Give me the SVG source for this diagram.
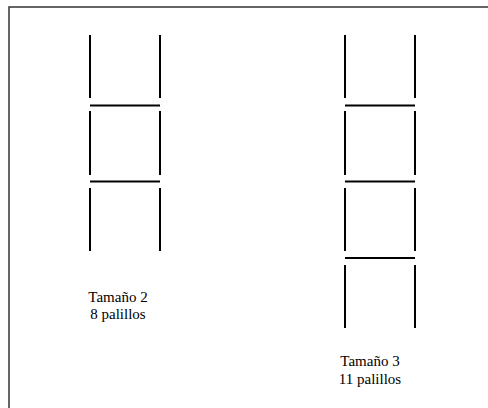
<svg xmlns="http://www.w3.org/2000/svg" width="488" height="408" viewBox="0 0 488 408">
  <style>
    .stick { stroke: #000; stroke-width: 2; fill: none; }
    .frame { stroke: #333; stroke-width: 1.5; fill: none; }
    .label { font-family: "Liberation Serif", "Times New Roman", serif; font-size: 15px; fill: #000; text-anchor: middle; }
  </style>
  <rect width="488" height="408" fill="#fff"/>
  <!-- page frame, open at right and bottom -->
  <rect class="frame" x="9" y="7" width="500" height="420"/>

  <!-- size 2 ladder -->
  <g id="tamano2">
    <line class="stick" x1="90" y1="35" x2="90" y2="98"/>
    <line class="stick" x1="160" y1="35" x2="160" y2="98"/>
    <line class="stick" x1="90" y1="105.5" x2="160" y2="105.5"/>
    <line class="stick" x1="90" y1="111" x2="90" y2="175"/>
    <line class="stick" x1="160" y1="111" x2="160" y2="175"/>
    <line class="stick" x1="90" y1="181.5" x2="160" y2="181.5"/>
    <line class="stick" x1="90" y1="188" x2="90" y2="251"/>
    <line class="stick" x1="160" y1="188" x2="160" y2="251"/>
    <text class="label" x="118" y="302">Tamaño 2</text>
    <text class="label" x="118" y="319">8 palillos</text>
  </g>

  <!-- size 3 ladder -->
  <g id="tamano3">
    <line class="stick" x1="345" y1="35" x2="345" y2="98"/>
    <line class="stick" x1="415" y1="35" x2="415" y2="98"/>
    <line class="stick" x1="345" y1="105.5" x2="415" y2="105.5"/>
    <line class="stick" x1="345" y1="111" x2="345" y2="175"/>
    <line class="stick" x1="415" y1="111" x2="415" y2="175"/>
    <line class="stick" x1="345" y1="181.5" x2="415" y2="181.5"/>
    <line class="stick" x1="345" y1="188" x2="345" y2="251"/>
    <line class="stick" x1="415" y1="188" x2="415" y2="251"/>
    <line class="stick" x1="345" y1="258" x2="415" y2="258"/>
    <line class="stick" x1="345" y1="265" x2="345" y2="328"/>
    <line class="stick" x1="415" y1="265" x2="415" y2="328"/>
    <text class="label" x="370" y="366">Tamaño 3</text>
    <text class="label" x="370" y="384">11 palillos</text>
  </g>
</svg>
